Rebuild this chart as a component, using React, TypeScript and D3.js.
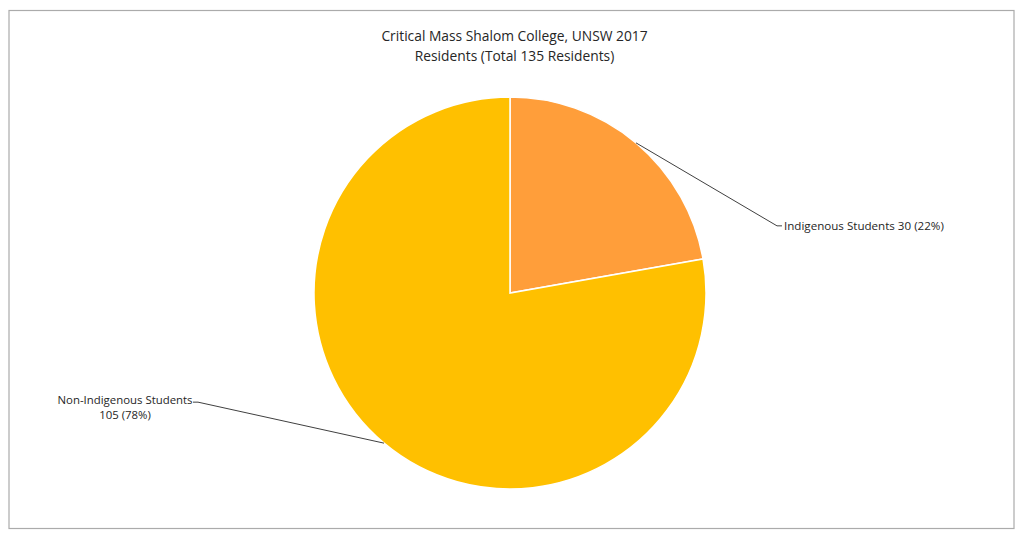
import React from "react";
import * as d3 from "d3";

const categories = ["Indigenous Students", "Non-Indigenous Students"];
const values = [30, 105];
const colors = ["#FF9E3A", "#FFC000"];
const titleLines = ["Critical Mass Shalom College, UNSW 2017", "Residents (Total 135 Residents)"];

const W = 1024;
const H = 538;

export default function App() {
  const cx = 510;
  const cy = 293;
  const r = 196;
  const total = d3.sum(values);
  const pie = d3.pie<number>().sort(null).value((d) => d);
  const arcs = pie(values);
  const arcGen = d3.arc<d3.PieArcDatum<number>>().innerRadius(0).outerRadius(r);
  const font = "'Open Sans', sans-serif";

  const pt = (a: number, rad: number): [number, number] => [cx + rad * Math.sin(a), cy - rad * Math.cos(a)];

  const pct = (v: number) => `${Math.round((v / total) * 100)}%`;

  const a0 = arcs[0];
  const m0 = (a0.startAngle + a0.endAngle) / 2;
  const s0 = pt(m0, r);
  const a1 = arcs[1];
  const m1 = (a1.startAngle + a1.endAngle) / 2;
  const s1 = pt(m1, r);

  return (
    <svg width={W} height={H} style={{ position: "absolute", left: 0, top: 0 }}>
      <rect x={9} y={10.5} width={1005} height={518} fill="#fff" stroke="#ababab" strokeWidth={1.2} />
      {titleLines.map((t, i) => (
        <text key={i} x={514.5} y={41 + i * 20} textAnchor="middle" fontFamily={font} fontSize={13.8} fill="#262626">
          {t}
        </text>
      ))}
      <g transform={`translate(${cx},${cy})`}>
        {arcs.map((a, i) => (
          <path key={i} d={arcGen(a) || ""} fill={colors[i]} stroke="#fff" strokeWidth={1.5} />
        ))}
      </g>
      <polyline
        points={`${s0[0]},${s0[1]} ${s0[0] + 141},${s0[1] + 83} ${s0[0] + 146},${s0[1] + 83}`}
        fill="none"
        stroke="#404040"
        strokeWidth={1}
      />
      <text x={s0[0] + 148} y={s0[1] + 87} fontFamily={font} fontSize={11.6} fill="#262626">
        {`${categories[0]} ${values[0]} (${pct(values[0])})`}
      </text>
      <polyline
        points={`${s1[0]},${s1[1]} ${s1[0] - 186},${s1[1] - 41} ${s1[0] - 191},${s1[1] - 41}`}
        fill="none"
        stroke="#404040"
        strokeWidth={1}
      />
      <text x={s1[0] - 259} y={s1[1] - 39} textAnchor="middle" fontFamily={font} fontSize={11.4} fill="#262626">
        <tspan x={s1[0] - 259}>{categories[1]}</tspan>
        <tspan x={s1[0] - 259} dy={15}>{`${values[1]} (${pct(values[1])})`}</tspan>
      </text>
    </svg>
  );
}
